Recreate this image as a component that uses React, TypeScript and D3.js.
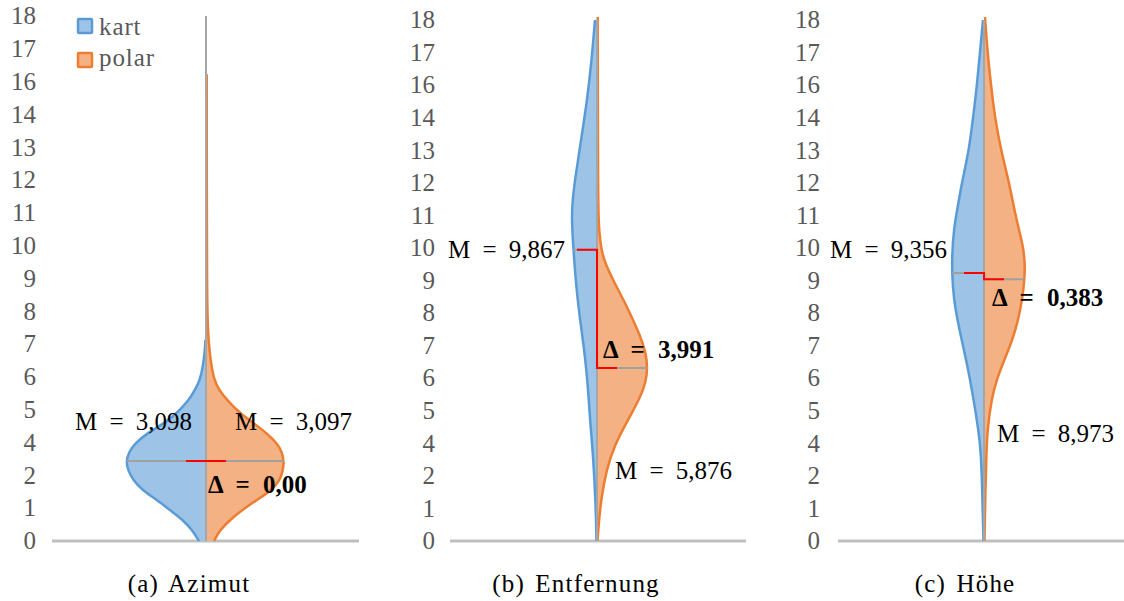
import React from "react";
import * as d3 from "d3";

// ---------- data ----------
const tickLabels = ["0", "1", "2", "4", "5", "6", "7", "8", "9", "10", "11", "12", "13", "14", "16", "17", "18"];
const axisMax = 18;
const seriesNames = ["kart", "polar"];
const captions = ["(a) Azimut", "(b) Entfernung", "(c) Höhe"];

// [value, relative density]
const azimutKart: [number, number][] = [
  [0, 7], [0.38, 14], [0.72, 23], [1.06, 36], [1.41, 49], [1.75, 64], [2.09, 73], [2.43, 78], [2.72, 80],
  [3.06, 77], [3.35, 71], [3.69, 59], [4.03, 42], [4.38, 29], [4.83, 17], [5.18, 11], [5.52, 6], [6.0, 3],
  [6.5, 1.2], [6.9, 0.5],
];
const azimutPolar: [number, number][] = [
  [0, 8], [0.38, 14], [0.72, 24], [1.06, 36], [1.41, 51], [1.75, 66], [2.09, 74], [2.43, 77], [2.72, 78],
  [3.06, 76], [3.35, 71], [3.69, 61], [4.03, 48], [4.38, 34], [4.83, 21], [5.18, 13], [5.52, 8], [6.2, 4.5],
  [6.9, 2.5], [7.6, 1.5], [8.9, 1], [12, 0.8], [16, 0.7],
];
const entfernungKart: [number, number][] = [
  [0, 0.5], [1.31, 1.3], [3.04, 4], [4.18, 7], [5.04, 8.5], [5.91, 10.6], [6.8, 13.5], [7.64, 17], [8.85, 21],
  [10.06, 23.5], [11.09, 25.4], [11.78, 24.5], [12.6, 21.5], [13.5, 17.5], [14.4, 13.5], [15.24, 10], [16.1, 7],
  [16.97, 4.5], [18, 2],
];
const entfernungPolar: [number, number][] = [
  [0, 0.5], [0.73, 2], [1.52, 4.5], [2.45, 9.5], [3.28, 17], [4.18, 31], [4.94, 43], [5.5, 49], [5.98, 50.5],
  [6.5, 49], [7.1, 43], [7.64, 36], [8.3, 27], [8.95, 17], [9.6, 8], [10.06, 4.4], [10.6, 2.5], [11.09, 1.5],
  [12.5, 1], [18.1, 0.7],
];
const hoeheKart: [number, number][] = [
  [0, 0.5], [1.42, 1.5], [3.11, 3], [3.8, 5.5], [4.97, 10.7], [6.15, 17], [7.29, 24.7], [8.43, 30.7],
  [9.26, 31.8], [9.8, 32], [10.74, 30.5], [11.8, 25], [12.4, 22], [13.5, 15], [14.6, 11], [15.75, 7],
  [16.9, 4], [18, 1],
];
const hoehePolar: [number, number][] = [
  [0, 0.5], [1.42, 1.2], [3.11, 2.5], [3.8, 3.3], [4.97, 7.7], [5.6, 13], [6.15, 19], [6.9, 28], [7.6, 34],
  [8.4, 38.5], [9.05, 40.5], [9.6, 41], [10.2, 39], [10.74, 35], [11.5, 30], [12.4, 25], [13.5, 17],
  [14.6, 11], [15.75, 7], [16.9, 3.5], [18.1, 1],
];

// means as drawn [kart, polar]
const azimutMeans = [2.74, 2.74];
const entfernungMeans = [10.06, 5.98];
const hoeheMeans = [9.26, 9.04];

const azimutTexts = ["M = 3,098", "M = 3,097", "Δ = 0,00"];
const entfernungTexts = ["M = 9,867", "M = 5,876", "Δ = 3,991"];
const hoeheTexts = ["M = 9,356", "M = 8,973", "Δ = 0,383"];

// ---------- style / layout ----------
const W = 1124;
const H = 601;
const FONT = "Liberation Serif, DejaVu Serif, serif";
const BLUE_FILL = "#9dc3e6";
const BLUE_LINE = "#5b9bd5";
const ORANGE_FILL = "#f4b183";
const ORANGE_LINE = "#ed7d31";
const GRAY_AXIS = "#bfbfbf";
const GRAY_CENTER = "#a6a6a6";
const TICK_COLOR = "#595959";

type Pt = [number, number];
interface PanelCfg {
  cx: number;
  labelX: number;
  base: [number, number];
  yTop: number;
  kart: Pt[];
  polar: Pt[];
  means: number[];
  texts: string[];
  caption: string;
  captionX: number;
  tKart: [number, number, string];
  tPolar: [number, number, string];
  tDelta: [number, number, string];
}

const panels: PanelCfg[] = [
  {
    cx: 206, labelX: 36, base: [52, 359], yTop: 16,
    kart: azimutKart, polar: azimutPolar, means: azimutMeans, texts: azimutTexts,
    caption: captions[0], captionX: 189,
    tKart: [192, 430, "end"], tPolar: [235, 430, "start"], tDelta: [208, 493, "start"],
  },
  {
    cx: 597, labelX: 435, base: [450, 746], yTop: 20,
    kart: entfernungKart, polar: entfernungPolar, means: entfernungMeans, texts: entfernungTexts,
    caption: captions[1], captionX: 576,
    tKart: [565, 258, "end"], tPolar: [615, 479, "start"], tDelta: [603, 358, "start"],
  },
  {
    cx: 984, labelX: 820, base: [838, 1134], yTop: 20,
    kart: hoeheKart, polar: hoehePolar, means: hoeheMeans, texts: hoeheTexts,
    caption: captions[2], captionX: 965,
    tKart: [947, 258, "end"], tPolar: [997, 442, "start"], tDelta: [992, 306, "start"],
  },
];

function densityAt(data: Pt[], v: number): number {
  for (let i = 0; i < data.length - 1; i++) {
    const [v0, d0] = data[i];
    const [v1, d1] = data[i + 1];
    if (v >= v0 && v <= v1) return d0 + ((v - v0) / (v1 - v0)) * (d1 - d0);
  }
  return 0;
}

function Panel({ p }: { p: PanelCfg }) {
  const y = d3.scaleLinear().domain([0, axisMax]).range([541, p.yTop]);
  const w = d3.scaleLinear().domain([0, 100]).range([0, 100]);
  const ticks = tickLabels.map((lab, i) => ({ lab, v: (i * axisMax) / (tickLabels.length - 1) }));
  const curve = d3.curveBasis;

  const area = (side: number) =>
    d3.area<Pt>().curve(curve).y((d) => y(d[0])).x0(p.cx).x1((d) => p.cx + side * w(d[1]));
  const line = (side: number) =>
    d3.line<Pt>().curve(curve).y((d) => y(d[0])).x((d) => p.cx + side * w(d[1]));

  const [mK, mP] = p.means;
  const hwK = w(densityAt(p.kart, mK));
  const hwP = w(densityAt(p.polar, mP));
  const red = 20;
  const redPath = d3.path();
  redPath.moveTo(p.cx - red, y(mK));
  redPath.lineTo(p.cx, y(mK));
  redPath.lineTo(p.cx, y(mP));
  redPath.lineTo(p.cx + red, y(mP));

  const txt = { fontSize: 25, fontFamily: FONT } as const;

  return (
    <g>
      {ticks.map((t) => (
        <text key={t.lab} x={p.labelX} y={y(t.v)} dy="0.33em" textAnchor="end" fill={TICK_COLOR}
          style={txt}>{t.lab}</text>
      ))}
      <line x1={p.base[0]} x2={p.base[1]} y1={y(0)} y2={y(0)} stroke={GRAY_AXIS} strokeWidth={3} />
      <path d={area(-1)(p.kart) || ""} fill={BLUE_FILL} />
      <path d={area(1)(p.polar) || ""} fill={ORANGE_FILL} />
      <path d={line(-1)(p.kart) || ""} fill="none" stroke={BLUE_LINE} strokeWidth={2.5} />
      <path d={line(1)(p.polar) || ""} fill="none" stroke={ORANGE_LINE} strokeWidth={2.5} />
      <line x1={p.cx} x2={p.cx} y1={y(axisMax)} y2={y(0)} stroke={GRAY_CENTER} strokeWidth={2} />
      <line x1={p.cx - hwK} x2={p.cx} y1={y(mK)} y2={y(mK)} stroke="#a0a0a0" strokeWidth={2} />
      <line x1={p.cx} x2={p.cx + hwP} y1={y(mP)} y2={y(mP)} stroke="#a0a0a0" strokeWidth={2} />
      <path d={redPath.toString()} fill="none" stroke="#ff0000" strokeWidth={2} />
      <text x={p.tKart[0]} y={p.tKart[1]} textAnchor={p.tKart[2] as any} style={{ ...txt, wordSpacing: 6 }}
        fill="#000">{p.texts[0]}</text>
      <text x={p.tPolar[0]} y={p.tPolar[1]} textAnchor={p.tPolar[2] as any} style={{ ...txt, wordSpacing: 6 }}
        fill="#000">{p.texts[1]}</text>
      <text x={p.tDelta[0]} y={p.tDelta[1]} textAnchor={p.tDelta[2] as any}
        style={{ ...txt, fontWeight: "bold", wordSpacing: 7 }} fill="#000">{p.texts[2]}</text>
      <text x={p.captionX} y={592} textAnchor="middle" style={{ ...txt, wordSpacing: 3, letterSpacing: 1.2 }}
        fill="#000">{p.caption}</text>
    </g>
  );
}

export default function App() {
  const legendColors = [
    [BLUE_FILL, BLUE_LINE],
    [ORANGE_FILL, ORANGE_LINE],
  ];
  return (
    <svg width={W} height={H} style={{ position: "absolute", left: 0, top: 0, background: "#fff" }}>
      <rect width={W} height={H} fill="#fff" />
      {panels.map((p, i) => (
        <Panel key={i} p={p} />
      ))}
      {seriesNames.map((s, i) => (
        <g key={s}>
          <rect x={78} y={19 + i * 34} width={14} height={14} fill={legendColors[i][0]}
            stroke={legendColors[i][1]} strokeWidth={2.5} rx={1} />
          <text x={99} y={35 + i * 31} style={{ fontSize: 25, fontFamily: FONT, letterSpacing: 0.9 }}
            fill={TICK_COLOR}>{s}</text>
        </g>
      ))}
    </svg>
  );
}
